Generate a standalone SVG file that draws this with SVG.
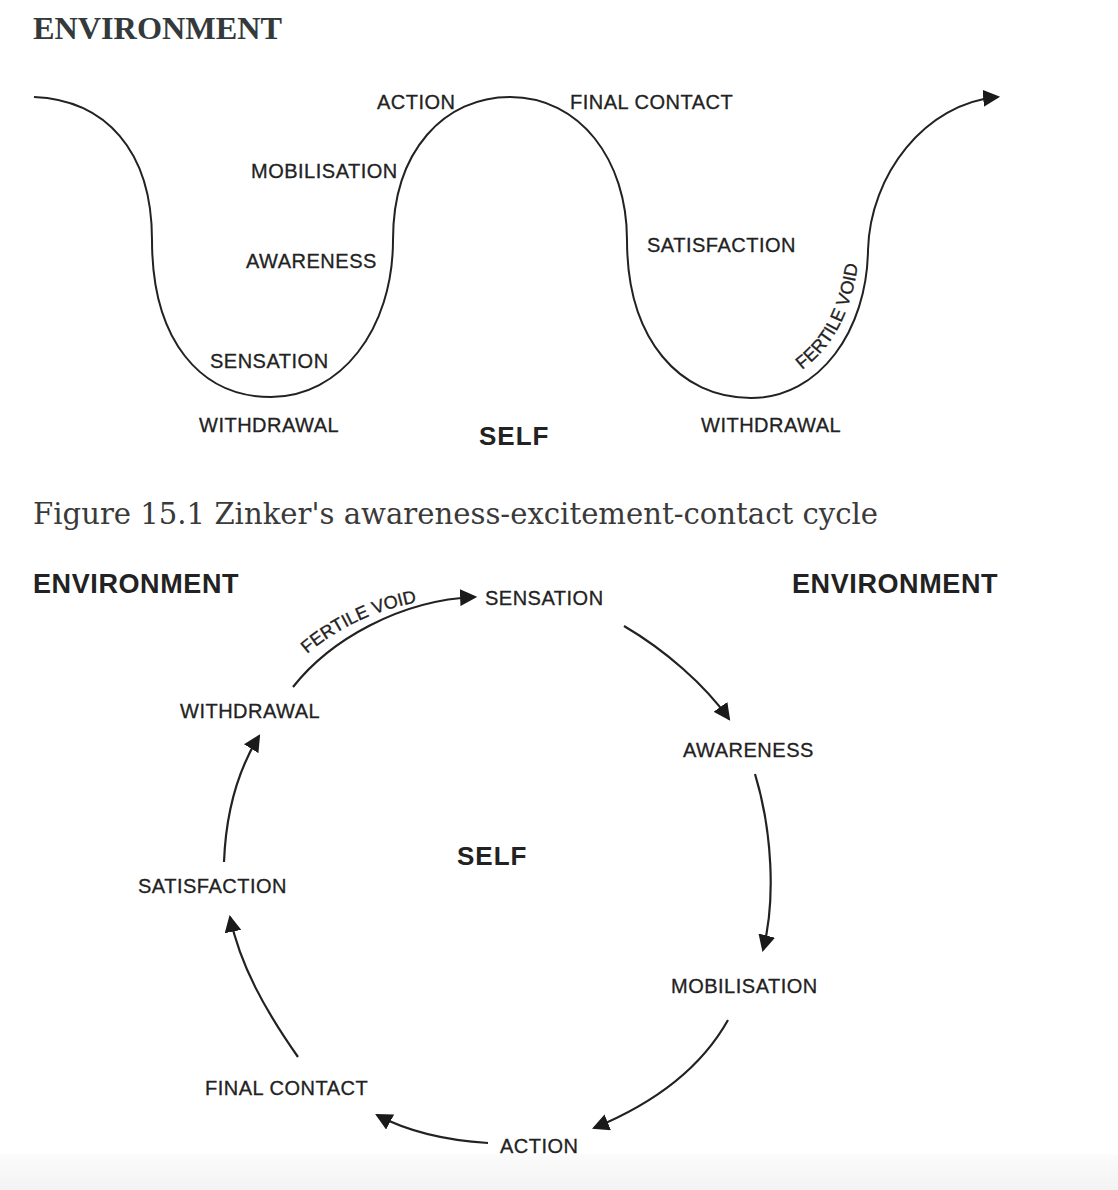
<svg xmlns="http://www.w3.org/2000/svg" width="1118" height="1190" viewBox="0 0 1118 1190">
<defs>
<style>
.lbl{font-family:"Liberation Sans",Arial,sans-serif;font-size:20px;fill:#222;stroke:#222;stroke-width:0.3px;letter-spacing:0.5px}
.self{font-family:"Liberation Sans",Arial,sans-serif;font-size:26px;font-weight:bold;fill:#222;letter-spacing:1px}
.env{font-family:"Liberation Sans",Arial,sans-serif;font-size:27px;font-weight:bold;fill:#222;letter-spacing:0.6px}
.fv{font-family:"Liberation Sans",Arial,sans-serif;font-size:18px;fill:#222;stroke:#222;stroke-width:0.35px}
.head{font-family:"Liberation Serif","Times New Roman",serif;font-weight:bold;font-size:32px;fill:#343a3b}
.cap{font-family:"DejaVu Serif","Liberation Serif",serif;font-size:29px;fill:#3a3a3a}
.line{fill:none;stroke:#222;stroke-width:2;stroke-linecap:butt}
.arrow{fill:none;stroke:#222;stroke-width:2.2;marker-end:url(#ah)}
</style>
<marker id="ah" markerUnits="userSpaceOnUse" viewBox="0 0 16 16" markerWidth="17" markerHeight="17" refX="14" refY="8" orient="auto">
<path d="M0,0 L16,8 L0,16 z" fill="#1a1a1a"/>
</marker>
<linearGradient id="band" x1="0" y1="0" x2="0" y2="1">
<stop offset="0" stop-color="#fbfbfb"/>
<stop offset="1" stop-color="#f3f3f3"/>
</linearGradient>
<path id="fvTop" d="M802,370 C830,348 853,318 860,248"/>
<path id="fvBot" d="M307,654 C340,626 380,608 428,600"/>
</defs>
<rect x="0" y="0" width="1118" height="1190" fill="#ffffff"/>
<rect x="0" y="1154" width="1118" height="36" fill="url(#band)"/>

<text class="head" x="33" y="39" textLength="249" lengthAdjust="spacingAndGlyphs">ENVIRONMENT</text>

<!-- Figure 1: wave -->
<g id="wave-connectors">
<path class="line" marker-end="url(#ah)" d="M34,97 C105,100 152,150 152,240 C152,340 200,397 271,397 C340,397 393,330 393,240 C393,150 445,97 510,97 C580,97 627,160 627,240 C627,340 680,398 751,398 C820,398 867,330 868,250 C870,175 925,103 998,97"/>
</g>
<g id="w-action"><text class="lbl" x="377" y="109">ACTION</text></g>
<g id="w-final-contact"><text class="lbl" x="570" y="109">FINAL CONTACT</text></g>
<g id="w-mobilisation"><text class="lbl" x="251" y="178">MOBILISATION</text></g>
<g id="w-awareness"><text class="lbl" x="246" y="268">AWARENESS</text></g>
<g id="w-satisfaction"><text class="lbl" x="647" y="252">SATISFACTION</text></g>
<g id="w-sensation"><text class="lbl" x="210" y="368">SENSATION</text></g>
<g id="w-withdrawal-1"><text class="lbl" x="199" y="432">WITHDRAWAL</text></g>
<g id="w-withdrawal-2"><text class="lbl" x="701" y="432">WITHDRAWAL</text></g>
<g id="w-self"><text class="self" x="479" y="445">SELF</text></g>
<g id="w-fertile-void"><text class="fv"><textPath href="#fvTop" startOffset="0">FERTILE VOID</textPath></text></g>

<text class="cap" x="33" y="524" textLength="845" lengthAdjust="spacingAndGlyphs">Figure 15.1 Zinker's awareness-excitement-contact cycle</text>

<!-- Figure 2: cycle -->
<g id="c-env-left"><text class="env" x="33" y="593">ENVIRONMENT</text></g>
<g id="c-env-right"><text class="env" x="792" y="593">ENVIRONMENT</text></g>
<g id="c-self"><text class="self" x="457" y="865">SELF</text></g>

<g id="cycle-connectors">
<path class="arrow" d="M293,687 C330,640 400,600 475,597"/>
<path class="arrow" d="M624,626 C665,650 705,685 729,719"/>
<path class="arrow" d="M755,774 C772,830 776,900 763,950"/>
<path class="arrow" d="M728,1020 C700,1070 650,1105 594,1128"/>
<path class="arrow" d="M488,1143 C440,1140 405,1130 377,1115"/>
<path class="arrow" d="M298,1057 C265,1010 240,965 230,917"/>
<path class="arrow" d="M224,862 C226,810 238,770 259,736"/>
</g>
<g id="c-fertile-void"><text class="fv"><textPath href="#fvBot" startOffset="0">FERTILE VOID</textPath></text></g>
<g id="c-sensation"><text class="lbl" x="485" y="605">SENSATION</text></g>
<g id="c-awareness"><text class="lbl" x="683" y="757">AWARENESS</text></g>
<g id="c-mobilisation"><text class="lbl" x="671" y="993">MOBILISATION</text></g>
<g id="c-action"><text class="lbl" x="500" y="1153">ACTION</text></g>
<g id="c-final-contact"><text class="lbl" x="205" y="1095">FINAL CONTACT</text></g>
<g id="c-satisfaction"><text class="lbl" x="138" y="893">SATISFACTION</text></g>
<g id="c-withdrawal"><text class="lbl" x="180" y="718">WITHDRAWAL</text></g>
</svg>
